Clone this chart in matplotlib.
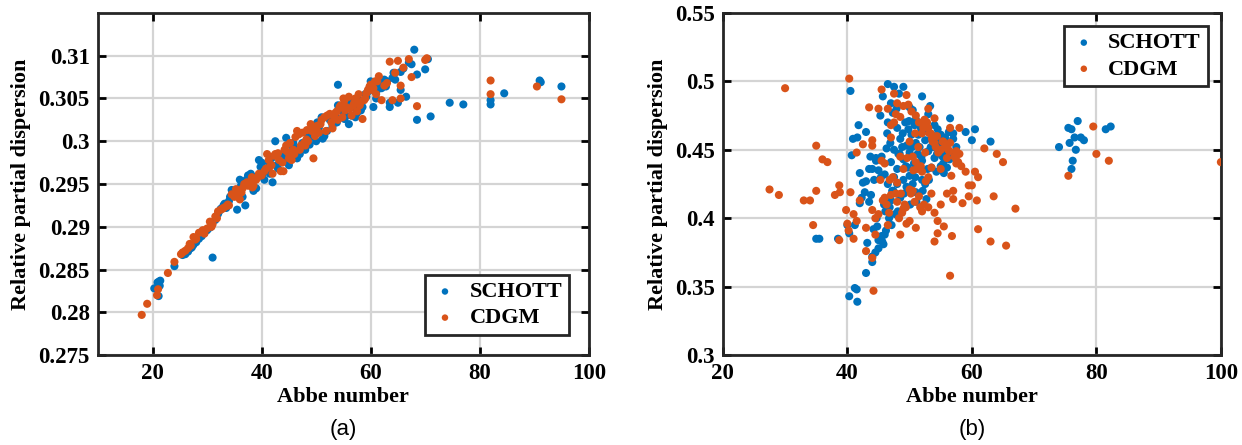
import numpy as np
import matplotlib.pyplot as plt

# (a) Abbe number vs relative partial dispersion, first set
schott_a_x = [20.3, 20.9, 21.2, 21.4, 21.1, 21.3, 24.0, 25.5, 26.0, 26.5, 27.0, 27.5, 28.0, 29.0,
              30.0, 31.0, 31.5, 32.0, 32.5, 33.0, 33.5, 34.5, 35.5, 36.0, 36.5, 37.0, 37.5, 38.0,
              38.5, 39.0, 39.5, 40.0, 40.5, 41.0, 41.5, 42.0, 42.5, 43.0, 44.0, 44.5, 45.0, 46.0,
              47.0, 48.0, 49.0, 50.0, 51.0, 51.5, 52.0, 53.0, 53.5, 54.0, 54.0, 55.0, 55.5, 56.0,
              57.0, 57.5, 58.0, 58.5, 59.0, 59.5, 60.0, 60.5, 61.0, 61.5, 62.0, 62.5, 63.0, 63.5,
              63.5, 64.0, 64.5, 65.0, 65.5, 65.5, 66.0, 66.5, 67.0, 67.5, 68.0, 68.5, 68.5, 70.0,
              70.5, 71.0, 74.5, 77.0, 82.0, 82.0, 84.5, 91.0, 91.2, 95.0,
              34.0, 35.0, 36.2, 37.2, 39.8, 41.3, 43.5, 45.5, 46.5, 47.5, 48.5, 49.5, 50.5, 52.5,
              54.5, 56.5, 57.8, 59.2, 60.8, 62.2, 44.8, 46.8, 53.2, 55.8,
              25.8, 27.2, 28.5, 29.5, 30.5, 32.2, 33.2, 34.2, 35.2, 36.8, 37.8, 38.8, 40.2, 41.8,
              42.8, 43.8, 45.8, 46.2, 48.8, 50.2, 51.2, 52.2, 53.8, 54.2, 55.2, 56.2, 57.2, 58.2,
              59.8, 61.2, 62.8, 64.2]
schott_a_y = [0.2828, 0.2835, 0.2836, 0.2837, 0.2819, 0.2831, 0.2854, 0.2867, 0.2868, 0.2871, 0.2875,
              0.2879, 0.2882, 0.2889, 0.2896, 0.2864, 0.2908, 0.2915, 0.2921, 0.2925, 0.2922, 0.2943,
              0.2920, 0.2955, 0.2935, 0.2925, 0.2960, 0.2962, 0.2942, 0.2945, 0.2978, 0.2975, 0.2955,
              0.2968, 0.2962, 0.2952, 0.3000, 0.2968, 0.2985, 0.3004, 0.2972, 0.2990, 0.2985, 0.2990,
              0.3005, 0.3000, 0.3028, 0.3006, 0.3012, 0.3018, 0.3030, 0.3066, 0.3042, 0.3035, 0.3030,
              0.3020, 0.3040, 0.3033, 0.3045, 0.3040, 0.3055, 0.3058, 0.3070, 0.3040, 0.3050, 0.3068,
              0.3062, 0.3072, 0.3070, 0.3045, 0.3040, 0.3074, 0.3072, 0.3045, 0.3060, 0.3081, 0.3085,
              0.3052, 0.3092, 0.3090, 0.3107, 0.3078, 0.3025, 0.3084, 0.3096, 0.3029, 0.3045, 0.3043,
              0.3043, 0.3048, 0.3056, 0.3071, 0.3069, 0.3064,
              0.2930, 0.2940, 0.2948, 0.2955, 0.2970, 0.2975, 0.2980, 0.2995, 0.2980, 0.2998, 0.3008,
              0.3012, 0.3016, 0.3025, 0.3038, 0.3030, 0.3048, 0.3052, 0.3058, 0.3066, 0.2978, 0.2992,
              0.3028, 0.3040,
              0.2869, 0.2876, 0.2886, 0.2893, 0.2899, 0.2918, 0.2927, 0.2935, 0.2938, 0.2951, 0.2949,
              0.2958, 0.2962, 0.2980, 0.2972, 0.2978, 0.2998, 0.2982, 0.2996, 0.3022, 0.3003, 0.3028,
              0.3022, 0.3036, 0.3026, 0.3046, 0.3028, 0.3036, 0.3062, 0.3060, 0.3064, 0.3080]

cdgm_a_x = [18.0, 19.0, 21.0, 20.8, 22.8, 24.0, 25.5, 26.0, 26.5, 27.0, 27.5, 28.0, 28.5, 29.0,
            29.5, 30.0, 30.5, 31.0, 31.5, 32.0, 32.5, 33.0, 33.5, 34.0, 35.0, 35.5, 36.0, 36.5,
            37.0, 37.5, 38.0, 38.5, 39.0, 40.0, 40.5, 41.0, 41.5, 42.0, 42.5, 43.0, 43.5, 44.0,
            44.5, 45.0, 45.5, 46.0, 46.5, 47.0, 47.5, 48.0, 48.5, 49.0, 49.5, 50.0, 50.5, 51.0,
            52.0, 52.5, 53.0, 53.5, 54.0, 54.5, 55.0, 55.5, 56.0, 56.5, 57.0, 57.5, 58.0, 58.5,
            59.0, 59.5, 60.0, 60.5, 61.0, 61.5, 62.0, 63.0, 63.5, 64.0, 64.5, 65.0, 65.5, 65.5,
            66.0, 67.0, 67.5, 68.5, 70.0, 70.3, 82.0, 82.0, 90.5, 95.0,
            34.5, 35.8, 36.8, 38.2, 39.5, 41.8, 43.2, 44.2, 45.2, 46.2, 47.2, 48.2, 49.2, 50.2,
            51.5, 52.8, 53.8, 54.8, 55.2, 56.2, 57.2, 58.2, 59.2, 60.2, 61.2, 62.5,
            25.2, 26.8, 27.8, 29.2, 30.8, 31.8, 32.8, 33.8, 34.8, 35.3, 36.3, 37.3, 38.3, 39.3,
            40.8, 41.3, 42.3, 43.8, 44.8, 45.8, 46.8, 47.8, 48.3, 49.8, 50.8, 51.8, 53.3, 54.3,
            55.3, 56.8, 57.8, 58.8, 59.8, 60.8]
cdgm_a_y = [0.2797, 0.2810, 0.2827, 0.2820, 0.2846, 0.2859, 0.2870, 0.2872, 0.2875, 0.2878, 0.2888,
            0.2886, 0.2893, 0.2894, 0.2892, 0.2898, 0.2906, 0.2903, 0.2912, 0.2918, 0.2920, 0.2922,
            0.2924, 0.2925, 0.2935, 0.2940, 0.2932, 0.2945, 0.2950, 0.2948, 0.2952, 0.2948, 0.2955,
            0.2960, 0.2965, 0.2985, 0.2970, 0.2962, 0.2985, 0.2986, 0.2965, 0.2965, 0.2995, 0.2980,
            0.2978, 0.2985, 0.3012, 0.2990, 0.3010, 0.2995, 0.3000, 0.3020, 0.2980, 0.3015, 0.3010,
            0.3025, 0.3030, 0.3032, 0.3015, 0.3033, 0.3025, 0.3042, 0.3050, 0.3040, 0.3052, 0.3030,
            0.3045, 0.3035, 0.3042, 0.3026, 0.3050, 0.3060, 0.3066, 0.3062, 0.3055, 0.3076, 0.3048,
            0.3068, 0.3093, 0.3048, 0.3080, 0.3094, 0.3065, 0.3050, 0.3086, 0.3096, 0.3075, 0.3041,
            0.3095, 0.3097, 0.3071, 0.3055, 0.3064, 0.3049,
            0.2938, 0.2942, 0.2950, 0.2958, 0.2962, 0.2972, 0.2978, 0.2990, 0.2998, 0.3005, 0.2995,
            0.3002, 0.3012, 0.3018, 0.3028, 0.3022, 0.3035, 0.3028, 0.3048, 0.3038, 0.3050, 0.3046,
            0.3056, 0.3060, 0.3070, 0.3065,
            0.2868, 0.2880, 0.2885, 0.2896, 0.2900, 0.2910, 0.2921, 0.2926, 0.2937, 0.2944, 0.2940,
            0.2952, 0.2946, 0.2958, 0.2968, 0.2978, 0.2983, 0.2975, 0.2987, 0.2990, 0.3008, 0.2998,
            0.3013, 0.3006, 0.3020, 0.3012, 0.3028, 0.3040, 0.3036, 0.3042, 0.3055, 0.3048, 0.3064,
            0.3070]

# (b) second set
schott_b_x = [40.5, 40.3, 41.2, 41.5, 41.6, 43.0, 35.0, 35.5, 38.5, 40.0, 40.3, 40.7, 40.9, 41.2,
              41.6, 41.8, 42.0, 42.0, 42.5, 42.8, 43.0, 43.0, 43.2, 43.5, 43.5, 43.7, 44.0, 44.0,
              44.0, 44.3, 44.5, 44.7, 45.0, 45.0, 45.0, 45.3, 45.5, 45.5, 45.7, 45.8, 46.0, 46.0,
              46.3, 46.5, 46.5, 46.5, 46.7, 47.0, 47.0, 47.0, 47.3, 47.5, 47.5, 47.5, 47.7, 48.0,
              48.0, 48.0, 48.3, 48.5, 48.5, 48.7, 49.0, 49.0, 49.0, 49.3, 49.5, 49.5, 49.7, 50.0,
              50.0, 50.0, 50.3, 50.5, 50.5, 50.7, 51.0, 51.0, 51.0, 51.3, 51.5, 51.8, 52.0, 52.0,
              52.0, 52.5, 52.5, 52.7, 53.0, 53.0, 53.0, 53.3, 53.5, 53.5, 54.0, 54.0, 54.3, 54.5,
              54.7, 55.0, 55.0, 55.3, 55.5, 55.7, 56.0, 56.0, 56.3, 56.5, 56.7, 57.0, 57.0, 57.5,
              59.0, 60.0, 60.5, 63.0, 74.0, 75.5, 75.7, 76.0, 76.2, 76.0, 76.5, 76.7, 77.0, 77.5,
              78.0, 81.5, 82.3,
              44.2, 44.8, 45.2, 45.6, 46.2, 46.8, 47.2, 48.2, 48.8, 49.8, 50.8, 51.6, 53.8, 54.8,
              43.8, 42.3, 44.6, 46.1,
              44.6, 45.4, 46.4, 46.9, 47.4, 47.9, 48.4, 48.9, 49.4, 49.9, 50.4, 50.9, 51.4, 51.9,
              52.4, 52.9, 53.4, 53.9, 54.4, 54.9, 55.4, 55.9, 56.4, 57.2, 45.9, 47.1, 48.1, 49.1,
              50.1, 51.1, 52.1, 53.1]
schott_b_y = [0.493, 0.343, 0.349, 0.348, 0.339, 0.360, 0.385, 0.385, 0.385, 0.395, 0.389, 0.446,
              0.458, 0.395, 0.459, 0.468, 0.433, 0.411, 0.426, 0.419, 0.463, 0.427, 0.382, 0.436,
              0.412, 0.445, 0.368, 0.372, 0.436, 0.428, 0.375, 0.400, 0.435, 0.384, 0.378, 0.475,
              0.445, 0.387, 0.489, 0.381, 0.432, 0.388, 0.451, 0.498, 0.470, 0.425, 0.400, 0.441,
              0.484, 0.413, 0.477, 0.496, 0.450, 0.430, 0.403, 0.466, 0.436, 0.425, 0.491, 0.458,
              0.415, 0.405, 0.496, 0.443, 0.428, 0.470, 0.453, 0.423, 0.437, 0.481, 0.448, 0.431,
              0.461, 0.479, 0.425, 0.440, 0.472, 0.455, 0.419, 0.447, 0.437, 0.466, 0.489, 0.442,
              0.428, 0.457, 0.425, 0.414, 0.476, 0.463, 0.449, 0.482, 0.458, 0.437, 0.468, 0.444,
              0.434, 0.465, 0.456, 0.461, 0.438, 0.445, 0.433, 0.459, 0.448, 0.437, 0.463, 0.473,
              0.445, 0.462, 0.458, 0.452, 0.463, 0.457, 0.465, 0.456, 0.452, 0.466, 0.455, 0.465,
              0.442, 0.436, 0.459, 0.450, 0.471, 0.459, 0.457, 0.465, 0.467,
              0.392, 0.394, 0.386, 0.383, 0.391, 0.408, 0.420, 0.447, 0.452, 0.465, 0.468, 0.452,
              0.452, 0.450, 0.417, 0.415, 0.444, 0.405,
              0.442, 0.430, 0.462, 0.455, 0.420, 0.480, 0.447, 0.462, 0.438, 0.471, 0.452, 0.430,
              0.461, 0.445, 0.470, 0.436, 0.452, 0.460, 0.447, 0.452, 0.440, 0.455, 0.443, 0.447,
              0.410, 0.395, 0.405, 0.418, 0.410, 0.412, 0.420, 0.428]

cdgm_b_x = [30.0, 40.3, 27.5, 29.0, 34.5, 33.0, 34.0, 35.0, 35.0, 36.0, 36.8, 38.0, 38.7, 38.8,
            38.7, 39.8, 40.0, 40.2, 40.5, 41.0, 41.0, 41.5, 41.5, 42.0, 42.5, 43.0, 43.0, 43.5,
            44.0, 44.0, 44.0, 44.0, 44.2, 44.5, 44.5, 45.0, 45.0, 45.5, 45.5, 45.7, 46.0, 46.0,
            46.5, 46.5, 47.0, 47.0, 47.0, 47.5, 47.5, 48.0, 48.0, 48.0, 48.5, 48.5, 48.5, 49.0,
            49.0, 49.0, 49.5, 49.5, 49.8, 50.0, 50.0, 50.0, 50.5, 50.5, 51.0, 51.0, 51.0, 51.5,
            51.5, 52.0, 52.0, 52.0, 52.5, 52.5, 53.0, 53.0, 53.0, 53.0, 53.5, 53.5, 54.0, 54.0,
            54.0, 54.0, 54.5, 54.5, 55.0, 55.0, 55.0, 55.5, 56.0, 56.0, 56.5, 56.5, 56.7, 56.8,
            57.0, 57.0, 56.5, 57.5, 57.5, 58.0, 58.0, 58.5, 59.0, 59.5, 59.5, 60.0, 60.5, 60.8,
            61.0, 61.0, 62.0, 63.0, 63.5, 64.0, 65.0, 65.5, 67.0, 75.5, 79.5, 80.0, 82.0, 100.0,
            52.2, 52.8, 53.2, 53.6, 54.2, 54.6, 55.4, 55.8, 56.2, 57.2, 57.8, 50.2, 50.8, 51.2,
            49.2, 48.8, 47.8, 46.8, 51.8, 52.6,
            45.3, 46.3, 47.3, 47.8, 48.6, 49.4, 50.3, 50.9, 51.4, 52.4, 53.4, 54.4, 55.3, 56.4,
            57.4, 58.3, 46.7, 48.3, 49.6, 50.6, 51.7, 52.3, 53.7, 55.7]
cdgm_b_y = [0.495, 0.502, 0.421, 0.417, 0.395, 0.413, 0.413, 0.420, 0.453, 0.443, 0.441, 0.417,
            0.424, 0.419, 0.384, 0.406, 0.396, 0.391, 0.419, 0.385, 0.403, 0.448, 0.398, 0.413,
            0.454, 0.376, 0.393, 0.481, 0.453, 0.457, 0.406, 0.371, 0.347, 0.388, 0.400, 0.480,
            0.403, 0.494, 0.442, 0.413, 0.440, 0.415, 0.395, 0.480, 0.468, 0.459, 0.417, 0.491,
            0.470, 0.484, 0.426, 0.412, 0.474, 0.445, 0.388, 0.482, 0.436, 0.407, 0.490, 0.396,
            0.483, 0.456, 0.421, 0.398, 0.445, 0.420, 0.475, 0.393, 0.441, 0.470, 0.416, 0.462,
            0.434, 0.405, 0.468, 0.448, 0.480, 0.466, 0.430, 0.408, 0.437, 0.418, 0.473, 0.455,
            0.404, 0.383, 0.398, 0.389, 0.450, 0.436, 0.410, 0.394, 0.444, 0.418, 0.455, 0.466,
            0.431, 0.387, 0.414, 0.420, 0.358, 0.449, 0.440, 0.466, 0.447, 0.411, 0.434, 0.424,
            0.416, 0.424, 0.434, 0.413, 0.430, 0.392, 0.451, 0.383, 0.416, 0.447, 0.441, 0.380,
            0.407, 0.431, 0.467, 0.447, 0.442, 0.441,
            0.466, 0.470, 0.462, 0.458, 0.452, 0.448, 0.456, 0.452, 0.450, 0.445, 0.441, 0.418,
            0.412, 0.436, 0.410, 0.404, 0.418, 0.428, 0.438, 0.427,
            0.428, 0.410, 0.430, 0.476, 0.418, 0.408, 0.478, 0.462, 0.452, 0.472, 0.462, 0.460,
            0.456, 0.449, 0.444, 0.438, 0.404, 0.400, 0.444, 0.435, 0.408, 0.410, 0.456, 0.452]

blue = '#0072BD'
orange = '#D95319'
serif = 'Liberation Serif'

fig = plt.figure(figsize=(12.42, 4.45), dpi=100)
ax_a = fig.add_axes([0.079, 0.202, 0.395, 0.769])
ax_b = fig.add_axes([0.582, 0.202, 0.401, 0.769])


def fmt(t):
    return ('%.3f' % t).rstrip('0').rstrip('.')


def style_axes(ax, xlim, ylim, xticks, yticks):
    ax.set_xlim(*xlim)
    ax.set_ylim(*ylim)
    ax.set_xticks(xticks)
    ax.set_yticks(yticks)
    ax.set_xticklabels([str(t) for t in xticks])
    ax.set_yticklabels([fmt(t) for t in yticks])
    ax.grid(True, color='#d4d4d4', linewidth=1.6)
    ax.set_axisbelow(True)
    ax.tick_params(direction='in', length=6, width=2, top=True, right=True,
                   labelsize=16.5, pad=6)
    for lab in ax.get_xticklabels() + ax.get_yticklabels():
        lab.set_fontfamily(serif)
        lab.set_fontweight('bold')
    for sp in ax.spines.values():
        sp.set_linewidth(2)
        sp.set_color('#262626')
    ax.set_xlabel('Abbe number', fontsize=16, fontweight='bold', family=serif, labelpad=2)
    ax.set_ylabel('Relative partial dispersion', fontsize=16, fontweight='bold', family=serif,
                  labelpad=5)


for ax, sx, sy, cx, cy, loc, pad in [
        (ax_a, schott_a_x, schott_a_y, cdgm_a_x, cdgm_a_y, 'lower right', 0.9),
        (ax_b, schott_b_x, schott_b_y, cdgm_b_x, cdgm_b_y, 'upper right', 0.6)]:
    ax.scatter(sx, sy, s=34, color=blue, edgecolors='none', label='SCHOTT', zorder=3)
    ax.scatter(cx, cy, s=34, color=orange, edgecolors='none', label='CDGM', zorder=3)
    leg = ax.legend(loc=loc, fancybox=False, framealpha=1, edgecolor='#262626',
                    prop={'family': serif, 'weight': 'bold', 'size': 16},
                    handletextpad=0.5, borderpad=0.3, markerscale=0.8,
                    borderaxespad=pad, labelspacing=0.25, handlelength=1.2)
    leg.get_frame().set_linewidth(2)

style_axes(ax_a, (10, 100), (0.275, 0.315), [20, 40, 60, 80, 100],
           [0.275, 0.28, 0.285, 0.29, 0.295, 0.3, 0.305, 0.31])
style_axes(ax_b, (20, 100), (0.3, 0.55), [20, 40, 60, 80, 100],
           [0.3, 0.35, 0.4, 0.45, 0.5, 0.55])

fig.text(0.2765, 0.035, '(a)', ha='center', va='center', fontsize=16, family='Liberation Sans')
fig.text(0.7825, 0.035, '(b)', ha='center', va='center', fontsize=16, family='Liberation Sans')

fig.savefig('out.png', dpi=100)
